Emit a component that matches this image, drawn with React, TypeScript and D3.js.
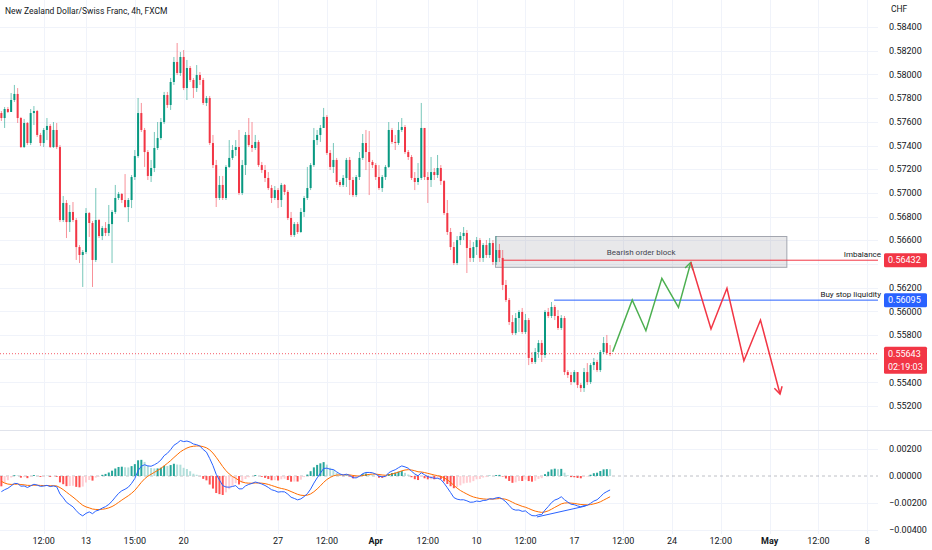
import { useRef, useEffect } from 'react';
import * as d3 from 'd3';

// NZD/CHF 4h candles, one entry per bar (open = previous close)
const firstOpen = 0.57674;

const closes = [
  0.57632, 0.57708, 0.57683, 0.57784, 0.57835, 0.57632, 0.57387, 0.5759, 0.57421, 0.57674,
  0.57691, 0.57489, 0.57421, 0.57531, 0.57565, 0.57387, 0.57531, 0.57387, 0.56771, 0.56915,
  0.56754, 0.56839, 0.56771, 0.56543, 0.56476, 0.56501, 0.5683, 0.56746, 0.56434, 0.56771,
  0.56636, 0.56704, 0.56662, 0.56737, 0.56839, 0.56957, 0.56991, 0.5694, 0.56881, 0.5694,
  0.57134, 0.57311, 0.57674, 0.57531, 0.57345, 0.57143, 0.5721, 0.57379, 0.57463, 0.57598,
  0.57826, 0.57742, 0.57936, 0.58105, 0.58012, 0.58147, 0.57885, 0.58054, 0.57953, 0.57885,
  0.57995, 0.57953, 0.57759, 0.57801, 0.57421, 0.57235, 0.56957, 0.57067, 0.56957, 0.57219,
  0.57295, 0.57362, 0.57387, 0.56999, 0.57235, 0.57489, 0.57404, 0.57379, 0.5743, 0.57235,
  0.57193, 0.57126, 0.57041, 0.56957, 0.57024, 0.5694, 0.57067, 0.57008, 0.56788, 0.56645,
  0.56737, 0.5667, 0.56839, 0.56957, 0.57041, 0.57235, 0.57446, 0.57489, 0.57548, 0.57641,
  0.57337, 0.57219, 0.57278, 0.57092, 0.57067, 0.57126, 0.57278, 0.57109, 0.56982, 0.57134,
  0.57295, 0.57421, 0.57345, 0.57261, 0.57235, 0.57134, 0.57041, 0.57134, 0.57219, 0.57531,
  0.5743, 0.57421, 0.57531, 0.57556, 0.57345, 0.57303, 0.57126, 0.57092, 0.57126, 0.57548,
  0.57134, 0.57109, 0.57176, 0.57151, 0.5721, 0.571, 0.5683, 0.5667, 0.56543, 0.56408,
  0.56602, 0.56636, 0.56662, 0.56535, 0.56451, 0.56543, 0.56602, 0.56451, 0.5656, 0.56476,
  0.56577, 0.56417, 0.56518, 0.56451, 0.56223, 0.56096, 0.5591, 0.55817, 0.55944, 0.55995,
  0.55826, 0.55927, 0.55607, 0.55573, 0.55657, 0.55733, 0.55632, 0.55995, 0.55961, 0.56037,
  0.55961, 0.5586, 0.55944, 0.55488, 0.55463, 0.55404, 0.55488, 0.55379, 0.55353, 0.55488,
  0.55404, 0.55547, 0.55573, 0.55505, 0.55657, 0.55733, 0.55649, 0.55643,
];

const highs = [
  0.57691, 0.57725, 0.57725, 0.57843, 0.57911, 0.57885, 0.57641, 0.57624, 0.57598, 0.57708,
  0.57733, 0.577, 0.57506, 0.57548, 0.57632, 0.57581, 0.57598, 0.5759, 0.57404, 0.56974,
  0.5694, 0.56898, 0.56923, 0.56788, 0.5656, 0.56518, 0.56872, 0.56839, 0.56763, 0.57041,
  0.5678, 0.56721, 0.56754, 0.56898, 0.56856, 0.57067, 0.57008, 0.56999, 0.57159, 0.56957,
  0.57151, 0.57362, 0.57801, 0.57759, 0.57548, 0.57362, 0.57278, 0.57514, 0.57598, 0.57632,
  0.57852, 0.57852, 0.5797, 0.58147, 0.58265, 0.58189, 0.58206, 0.58122, 0.58071, 0.5797,
  0.58079, 0.5802, 0.5797, 0.57818, 0.57818, 0.57489, 0.57278, 0.57143, 0.57143, 0.57235,
  0.57446, 0.57404, 0.57446, 0.57531, 0.57278, 0.57514, 0.57632, 0.57598, 0.57489, 0.57446,
  0.57261, 0.57235, 0.57176, 0.57067, 0.57058, 0.57041, 0.57084, 0.57075, 0.57024, 0.56839,
  0.56754, 0.56754, 0.56872, 0.56974, 0.57219, 0.57252, 0.57548, 0.57531, 0.57573, 0.57717,
  0.57657, 0.57362, 0.57421, 0.57295, 0.57109, 0.57151, 0.57295, 0.57303, 0.57134, 0.57151,
  0.57345, 0.57497, 0.57531, 0.57522, 0.57278, 0.57252, 0.57235, 0.57151, 0.57235, 0.57598,
  0.57548, 0.57489, 0.57598, 0.57632, 0.57573, 0.57362, 0.5732, 0.57176, 0.57252, 0.57759,
  0.57548, 0.57176, 0.57303, 0.5721, 0.5732, 0.57235, 0.57109, 0.5694, 0.56704, 0.56586,
  0.56636, 0.5667, 0.56712, 0.56687, 0.56602, 0.56586, 0.56628, 0.56619, 0.56577, 0.56602,
  0.56619, 0.56602, 0.56636, 0.56569, 0.56518, 0.56265, 0.56113, 0.55969, 0.55986, 0.56012,
  0.56029, 0.55978, 0.55944, 0.55657, 0.55691, 0.55758, 0.55758, 0.56012, 0.56029, 0.56079,
  0.56054, 0.56012, 0.55969, 0.55961, 0.55505, 0.55488, 0.55505, 0.55488, 0.55395, 0.55522,
  0.55564, 0.55564, 0.55607, 0.5559, 0.55674, 0.55784, 0.55801, 0.55716,
];

const lows = [
  0.57607, 0.57548, 0.57674, 0.57683, 0.57767, 0.5759, 0.57379, 0.57379, 0.57404, 0.57404,
  0.57573, 0.57472, 0.57396, 0.57387, 0.57446, 0.57379, 0.57379, 0.5737, 0.56754, 0.56754,
  0.56619, 0.5667, 0.56754, 0.56434, 0.56408, 0.56206, 0.56484, 0.56628, 0.56206, 0.56417,
  0.56619, 0.56602, 0.56636, 0.56636, 0.56408, 0.56822, 0.5694, 0.56915, 0.56872, 0.56754,
  0.56872, 0.57109, 0.57295, 0.57514, 0.57219, 0.57109, 0.57092, 0.57176, 0.57362, 0.57446,
  0.57581, 0.57717, 0.577, 0.57911, 0.57995, 0.57987, 0.57868, 0.57784, 0.57936, 0.57801,
  0.57852, 0.57911, 0.57742, 0.57733, 0.57404, 0.5721, 0.56881, 0.5694, 0.5694, 0.5694,
  0.5721, 0.57278, 0.57311, 0.56982, 0.56982, 0.57151, 0.57387, 0.57345, 0.57362, 0.57219,
  0.57168, 0.57092, 0.57024, 0.56915, 0.5694, 0.56872, 0.56881, 0.56982, 0.56771, 0.56628,
  0.56628, 0.56653, 0.56662, 0.56797, 0.5694, 0.57024, 0.57219, 0.57404, 0.5743, 0.57548,
  0.5732, 0.57193, 0.57168, 0.57067, 0.5705, 0.5705, 0.5705, 0.56982, 0.56965, 0.56965,
  0.57109, 0.57278, 0.57193, 0.56982, 0.5721, 0.57109, 0.57024, 0.57008, 0.57109, 0.5721,
  0.57413, 0.57362, 0.57404, 0.57514, 0.57328, 0.57278, 0.57109, 0.57024, 0.57067, 0.57109,
  0.57109, 0.56915, 0.5705, 0.57109, 0.57126, 0.57067, 0.56813, 0.56645, 0.56518, 0.56391,
  0.56391, 0.5656, 0.56602, 0.56324, 0.56417, 0.56417, 0.56476, 0.56417, 0.56417, 0.56451,
  0.56451, 0.56391, 0.56391, 0.56417, 0.5618, 0.56079, 0.55885, 0.55801, 0.55801, 0.55826,
  0.55809, 0.55809, 0.55547, 0.55556, 0.55556, 0.55607, 0.55573, 0.55607, 0.55944, 0.55944,
  0.55927, 0.55843, 0.55843, 0.55463, 0.55438, 0.55379, 0.55395, 0.55353, 0.5532, 0.5532,
  0.55379, 0.55387, 0.55505, 0.55488, 0.55488, 0.5564, 0.55632, 0.55623,
];

const symbolTitle = 'New Zealand Dollar/Swiss Franc, 4h, FXCM';
const currency = 'CHF';
const lastPrice = 0.55643;
const barCountdown = '02:19:03';

// time axis: bar index of each label (future bars continue the same spacing)
const timeTickBars = [13, 26, 41, 56, 85, 100, 115, 131, 146, 161, 176, 191, 206, 221, 236, 251, 266];
const timeTickLabels = ['12:00', '13', '15:00', '20', '27', '12:00', 'Apr', '12:00', '10', '12:00', '17', '12:00', '24', '12:00', 'May', '12:00', '8'];
const boldTimeLabels = ['Apr', 'May'];

const priceGrid = [0.584, 0.582, 0.58, 0.578, 0.576, 0.574, 0.572, 0.57, 0.568, 0.566, 0.564, 0.562, 0.56, 0.558, 0.556, 0.554, 0.552];
// labels hidden behind the price tags
const hiddenPriceLabels = [0.564, 0.556];
const macdTicks = [0.002, 0, -0.002, -0.004];

// MACD (12, 26, 9) state at the first visible bar
const macdAtStart = -0.00117;
const signalAtStart = -0.0004;

// drawings: [bar, price]
const orderBlock = { bar0: 151.8, bar1: 241.3, top: 0.56632, bottom: 0.56372, label: 'Bearish order block' };
const imbalance = { bar: 153.8, price: 0.56432, label: 'Imbalance' };
const buyStop = { bar: 169.8, price: 0.56095, label: 'Buy stop liquidity' };
const bullLeg: [number, number][] = [
  [187.8, 0.5566], [193.8, 0.56096], [198.0, 0.55837], [202.9, 0.56279], [208.0, 0.56034], [211.8, 0.56414],
];
const bearLeg: [number, number][] = [
  [211.8, 0.56414], [218.0, 0.55851], [222.9, 0.56195], [228.1, 0.55584], [233.2, 0.55927], [239.2, 0.55303],
];
const macdDivergence: [number, number][] = [[164.5, -0.00306], [179.5, -0.00224]];

const UP = '#089981';
const DOWN = '#f23645';
const TEXT = '#131722';
const GRID = '#f0f3fa';

export default function App() {
  const svgRef = useRef<SVGSVGElement>(null);

  useEffect(() => {
    if (!svgRef.current) return;
    const svg = d3.select(svgRef.current);
    svg.selectAll('*').remove();

    const width = 932;
    const height = 550;
    const paneRight = 878;
    const mainBottom = 430;
    const macdTop = 431;
    const macdBottom = 534;
    const font = 'Roboto, "Noto Sans", sans-serif';

    const x = d3.scaleLinear().domain([-0.42, 269.3]).range([0, paneRight]);
    const y = d3.scaleLinear().domain([0.54999, 0.58628]).range([mainBottom, 0]);
    const ym = d3.scaleLinear().domain([-0.00433, 0.00336]).range([macdBottom, macdTop]);

    const bars = closes.map((c, i) => ({
      i,
      o: i === 0 ? firstOpen : closes[i - 1],
      h: highs[i],
      l: lows[i],
      c,
    }));

    // MACD from the closes
    const k12 = 2 / 13, k26 = 2 / 27, k9 = 2 / 10;
    let ema12 = closes[0];
    let ema26 = closes[0] - macdAtStart;
    let sig = signalAtStart;
    const macd: number[] = [];
    const signal: number[] = [];
    const hist: number[] = [];
    closes.forEach((c, i) => {
      if (i > 0) {
        ema12 += k12 * (c - ema12);
        ema26 += k26 * (c - ema26);
      }
      const m = ema12 - ema26;
      if (i > 0) sig += k9 * (m - sig);
      macd.push(m);
      signal.push(sig);
      hist.push(m - sig);
    });

    svg.append('rect').attr('width', width).attr('height', height).attr('fill', '#fff');

    const defs = svg.append('defs');
    defs.append('clipPath').attr('id', 'main-clip')
      .append('rect').attr('x', 0).attr('y', 0).attr('width', paneRight).attr('height', mainBottom);
    defs.append('clipPath').attr('id', 'macd-clip')
      .append('rect').attr('x', 0).attr('y', macdTop).attr('width', width).attr('height', macdBottom - macdTop);
    [['arrow-green', '#4caf50'], ['arrow-red', DOWN]].forEach(([id, col]) => {
      defs.append('marker')
        .attr('id', id)
        .attr('viewBox', '-9 -6 11 12')
        .attr('markerWidth', 11)
        .attr('markerHeight', 12)
        .attr('markerUnits', 'userSpaceOnUse')
        .attr('refX', 0)
        .attr('refY', 0)
        .attr('orient', 'auto')
        .append('path')
        .attr('d', 'M -7 -4 L 0 0 L -7 4')
        .attr('fill', 'none')
        .attr('stroke', col)
        .attr('stroke-width', 1.5);
    });

    // grid
    const grid = svg.append('g');
    grid.selectAll('.vgrid')
      .data(timeTickBars)
      .enter().append('line')
      .attr('x1', d => Math.round(x(d)) + 0.5)
      .attr('x2', d => Math.round(x(d)) + 0.5)
      .attr('y1', 0)
      .attr('y2', macdBottom)
      .attr('stroke', GRID);
    grid.selectAll('.hgrid')
      .data(priceGrid)
      .enter().append('line')
      .attr('x1', 0).attr('x2', paneRight)
      .attr('y1', d => Math.round(y(d)) + 0.5)
      .attr('y2', d => Math.round(y(d)) + 0.5)
      .attr('stroke', GRID);
    grid.selectAll('.mgrid')
      .data(macdTicks.filter(d => d !== 0))
      .enter().append('line')
      .attr('x1', 0).attr('x2', paneRight)
      .attr('y1', d => Math.round(ym(d)) + 0.5)
      .attr('y2', d => Math.round(ym(d)) + 0.5)
      .attr('stroke', GRID);

    // pane separator
    svg.append('line')
      .attr('x1', 0).attr('x2', width)
      .attr('y1', mainBottom + 0.5).attr('y2', mainBottom + 0.5)
      .attr('stroke', '#e0e3eb');

    const main = svg.append('g').attr('clip-path', 'url(#main-clip)');

    // bearish order block
    main.append('rect')
      .attr('x', x(orderBlock.bar0))
      .attr('y', y(orderBlock.top))
      .attr('width', x(orderBlock.bar1) - x(orderBlock.bar0))
      .attr('height', y(orderBlock.bottom) - y(orderBlock.top))
      .attr('fill', 'rgba(149,152,161,0.22)')
      .attr('stroke', '#a3a6af')
      .attr('stroke-width', 1);
    main.append('text')
      .attr('x', x((orderBlock.bar0 + orderBlock.bar1) / 2))
      .attr('y', (y(orderBlock.top) + y(orderBlock.bottom)) / 2)
      .attr('dy', '0.35em')
      .attr('text-anchor', 'middle')
      .attr('font-family', font)
      .attr('font-size', 8)
      .attr('fill', '#434651')
      .text(orderBlock.label);

    // current price line
    main.append('line')
      .attr('x1', 0).attr('x2', paneRight)
      .attr('y1', y(lastPrice)).attr('y2', y(lastPrice))
      .attr('stroke', DOWN)
      .attr('stroke-opacity', 0.8)
      .attr('stroke-dasharray', '1,2');

    // candles
    const bw = 2;
    const candle = main.append('g').selectAll('g')
      .data(bars)
      .enter().append('g');
    candle.append('line')
      .attr('x1', d => x(d.i)).attr('x2', d => x(d.i))
      .attr('y1', d => y(d.h)).attr('y2', d => y(d.l))
      .attr('stroke', d => (d.c >= d.o ? UP : DOWN))
      .attr('stroke-opacity', 0.55)
      .attr('stroke-width', 1);
    candle.append('rect')
      .attr('x', d => x(d.i) - bw / 2)
      .attr('y', d => y(Math.max(d.o, d.c)))
      .attr('width', bw)
      .attr('height', d => Math.max(1, Math.abs(y(d.o) - y(d.c))))
      .attr('fill', d => (d.c >= d.o ? UP : DOWN));

    // horizontal rays
    main.append('line')
      .attr('x1', x(imbalance.bar)).attr('x2', paneRight)
      .attr('y1', y(imbalance.price)).attr('y2', y(imbalance.price))
      .attr('stroke', DOWN).attr('stroke-width', 1);
    main.append('line')
      .attr('x1', x(buyStop.bar)).attr('x2', paneRight)
      .attr('y1', y(buyStop.price)).attr('y2', y(buyStop.price))
      .attr('stroke', '#2962ff').attr('stroke-width', 1);

    // projected path
    const leg = d3.line<[number, number]>().x(d => x(d[0])).y(d => y(d[1]));
    main.append('path')
      .attr('d', leg(bullLeg))
      .attr('fill', 'none')
      .attr('stroke', '#4caf50')
      .attr('stroke-width', 1.5)
      .attr('marker-end', 'url(#arrow-green)');
    main.append('path')
      .attr('d', leg(bearLeg))
      .attr('fill', 'none')
      .attr('stroke', DOWN)
      .attr('stroke-width', 1.5)
      .attr('marker-end', 'url(#arrow-red)');

    // ray labels
    [imbalance, buyStop].forEach(r => {
      svg.append('text')
        .attr('x', 881)
        .attr('y', y(r.price) - 3.5)
        .attr('text-anchor', 'end')
        .attr('font-family', font)
        .attr('font-size', 8)
        .attr('fill', TEXT)
        .text(r.label);
    });

    // MACD pane
    const mp = svg.append('g').attr('clip-path', 'url(#macd-clip)');
    mp.append('line')
      .attr('x1', 0).attr('x2', paneRight)
      .attr('y1', ym(0)).attr('y2', ym(0))
      .attr('stroke', '#9598a1')
      .attr('stroke-opacity', 0.6)
      .attr('stroke-dasharray', '3,3');
    mp.append('g').selectAll('rect')
      .data(hist)
      .enter().append('rect')
      .attr('x', (_, i) => x(i) - 1)
      .attr('width', 2)
      .attr('y', d => ym(Math.max(0, d)))
      .attr('height', d => Math.abs(ym(d) - ym(0)))
      .attr('fill', (d, i) => {
        const prev = i > 0 ? hist[i - 1] : d;
        if (d >= 0) return d >= prev ? '#26a69a' : '#b2dfdb';
        return d <= prev ? '#ff5252' : '#ffcdd2';
      });
    const mline = d3.line<number>().x((_, i) => x(i)).y(d => ym(d));
    mp.append('path')
      .attr('d', mline(signal))
      .attr('fill', 'none')
      .attr('stroke', '#ff6d00')
      .attr('stroke-width', 1);
    mp.append('path')
      .attr('d', mline(macd))
      .attr('fill', 'none')
      .attr('stroke', '#2962ff')
      .attr('stroke-width', 1);
    mp.append('path')
      .attr('d', d3.line<[number, number]>().x(d => x(d[0])).y(d => ym(d[1]))(macdDivergence))
      .attr('fill', 'none')
      .attr('stroke', '#2962ff')
      .attr('stroke-width', 1);
    mp.selectAll('.mlabel')
      .data(macdTicks)
      .enter().append('text')
      .attr('x', 889)
      .attr('y', d => ym(d))
      .attr('dy', '0.35em')
      .attr('font-family', font)
      .attr('font-size', 9)
      .attr('fill', TEXT)
      .text(d => d3.format('.5f')(d));

    // title and currency
    svg.append('text')
      .attr('x', 5).attr('y', 14)
      .attr('font-family', font)
      .attr('font-size', 8.5)
      .attr('fill', TEXT)
      .text(symbolTitle);
    svg.append('text')
      .attr('x', 891).attr('y', 12)
      .attr('font-family', font)
      .attr('font-size', 8.5)
      .attr('fill', TEXT)
      .text(currency);

    // price axis
    svg.selectAll('.plabel')
      .data(priceGrid.filter(p => !hiddenPriceLabels.includes(p)))
      .enter().append('text')
      .attr('x', 889)
      .attr('y', d => y(d))
      .attr('dy', '0.35em')
      .attr('font-family', font)
      .attr('font-size', 9)
      .attr('fill', TEXT)
      .text(d => d3.format('.5f')(d));

    // price tags
    const tag = (price: number, fill: string, lines: string[]) => {
      const h = lines.length * 13 + 1;
      const top = y(price) - 7;
      svg.append('rect')
        .attr('x', 884).attr('y', top)
        .attr('width', 43).attr('height', h)
        .attr('rx', 1.5)
        .attr('fill', fill);
      lines.forEach((t, k) => {
        svg.append('text')
          .attr('x', 888)
          .attr('y', top + 7 + k * 13)
          .attr('dy', '0.35em')
          .attr('font-family', font)
          .attr('font-size', 9)
          .attr('fill', '#fff')
          .text(t);
      });
    };
    tag(imbalance.price, DOWN, [d3.format('.5f')(imbalance.price)]);
    tag(buyStop.price, '#2962ff', [d3.format('.5f')(buyStop.price)]);
    tag(lastPrice, DOWN, [d3.format('.5f')(lastPrice), barCountdown]);

    // time axis
    svg.selectAll('.tlabel')
      .data(timeTickBars)
      .enter().append('text')
      .attr('x', d => x(d))
      .attr('y', 544)
      .attr('text-anchor', 'middle')
      .attr('font-family', font)
      .attr('font-size', 9)
      .attr('font-weight', (_, k) => (boldTimeLabels.includes(timeTickLabels[k]) ? 700 : 400))
      .attr('fill', TEXT)
      .text((_, k) => timeTickLabels[k]);
  }, []);

  return (
    <div style={{ position: 'absolute', left: 0, top: 0 }}>
      <svg ref={svgRef} width={932} height={550} style={{ display: 'block' }} />
    </div>
  );
}
